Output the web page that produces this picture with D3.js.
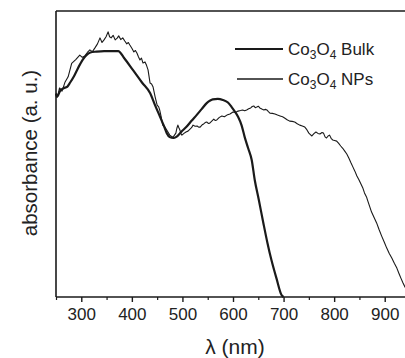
<!DOCTYPE html>
<html><head><meta charset="utf-8">
<script src="https://cdn.jsdelivr.net/npm/d3@7"></script>
<style>body{margin:0;background:#fff}svg{display:block}text{font-family:"Liberation Sans",Arial,sans-serif;fill:#222}</style>
</head><body><svg id="c" width="405" height="358"></svg>
<script>
const xTicks = [300,400,500,600,700,800,900];
const xMinorTicks = [250,350,450,550,650,750,850,950];
const bulkWl = [250,252,258,265,272,278,285,292,298,303,310,318,330,345,360,373,385,402,420,436,446,456,463,469,475,482,488,498,508,518,528,538,548,555,560,570,580,590,597,603,610,617,623,630,637,643,651,660,668,676,686,696,700];
const bulkAbs = [0.71,0.70,0.72,0.73,0.735,0.75,0.77,0.795,0.815,0.83,0.845,0.855,0.858,0.86,0.86,0.86,0.835,0.794,0.75,0.713,0.67,0.629,0.60,0.573,0.559,0.556,0.56,0.578,0.595,0.616,0.636,0.657,0.678,0.687,0.691,0.693,0.689,0.68,0.665,0.65,0.63,0.60,0.56,0.52,0.479,0.409,0.34,0.259,0.19,0.129,0.065,0.007,0];
const npWl = [250,253,257,262,268,274,281,289,297,302,307,312,317,322,327,332,337,341,345,349,353,356,359,363,367,371,374,378,382,386,390,393,396,400,404,407,410,413,416,419,422,426,429,432,436,439,442,446,450,453,455,458,461,465,469,472,475,478,481,484,487,489,491,493,495,497,499,503,507,511,515,518,521,525,529,532,535,539,542,545,548,551,554,558,562,565,568,573,578,583,588,594,600,605,610,615,619,623,627,631,635,638,641,644,647,650,653,657,661,664,667,670,673,678,683,688,693,698,702,707,712,717,722,727,732,737,742,746,750,753,756,760,764,768,772,776,779,782,785,788,791,794,797,801,805,809,813,817,821,825,829,833,837,841,845,849,853,857,860,864,866,870,874,879,884,889,894,899,904,909,914,919,924,928,932,936,940,945,950];
const npAbs = [0.713,0.70,0.731,0.72,0.752,0.77,0.817,0.83,0.846,0.838,0.843,0.855,0.864,0.858,0.871,0.885,0.906,0.89,0.899,0.91,0.927,0.91,0.906,0.915,0.899,0.905,0.913,0.9,0.906,0.895,0.885,0.89,0.881,0.87,0.857,0.862,0.853,0.84,0.829,0.835,0.818,0.822,0.81,0.794,0.748,0.745,0.734,0.70,0.671,0.665,0.654,0.63,0.601,0.595,0.584,0.575,0.566,0.562,0.559,0.565,0.573,0.59,0.601,0.592,0.584,0.572,0.566,0.572,0.577,0.58,0.587,0.592,0.601,0.597,0.598,0.594,0.594,0.602,0.605,0.61,0.612,0.607,0.608,0.615,0.622,0.617,0.619,0.628,0.633,0.63,0.636,0.64,0.647,0.645,0.65,0.652,0.654,0.651,0.654,0.658,0.661,0.666,0.668,0.662,0.664,0.667,0.661,0.657,0.654,0.656,0.654,0.648,0.643,0.642,0.640,0.636,0.633,0.63,0.626,0.62,0.615,0.614,0.612,0.606,0.601,0.598,0.594,0.585,0.573,0.568,0.563,0.571,0.577,0.572,0.57,0.575,0.573,0.56,0.556,0.563,0.566,0.555,0.549,0.547,0.545,0.537,0.528,0.52,0.51,0.50,0.486,0.47,0.455,0.44,0.423,0.41,0.395,0.38,0.364,0.35,0.339,0.318,0.297,0.278,0.259,0.235,0.213,0.192,0.171,0.152,0.136,0.118,0.101,0.083,0.066,0.05,0.035,0.022,0.014];
const series = [
  {name:"Bulk", wl:bulkWl, abs:bulkAbs, width:2.2},
  {name:"NPs", wl:npWl, abs:npAbs, width:1.1}
];
const legendNames = ["Bulk","NPs"];

const svg = d3.select("#c");
const L = 56, R = 410, T = 11, B = 297;
const x = d3.scaleLinear().domain([250,950]).range([L,R]);
const y = d3.scaleLinear().domain([0,1]).range([B,T]);

svg.append("rect").attr("width",405).attr("height",358).attr("fill","#fff");

const line = d3.line().x(d=>x(d[0])).y(d=>y(d[1]));
series.forEach(s=>{
  const pts = s.wl.map((w,i)=>[w,s.abs[i]]);
  svg.append("path").attr("d", line.curve(s.name==="Bulk"?d3.curveMonotoneX:d3.curveLinear)(pts))
    .attr("fill","none").attr("stroke","#1a1a1a").attr("stroke-width",s.width).attr("stroke-linejoin","round");
});

// frame
svg.append("line").attr("x1",L).attr("x2",L).attr("y1",T).attr("y2",B).attr("stroke","#1a1a1a").attr("stroke-width",1.6);
svg.append("line").attr("x1",L).attr("x2",R).attr("y1",T).attr("y2",T).attr("stroke","#1a1a1a").attr("stroke-width",1.6);

const xAxis = svg.append("g").attr("transform",`translate(0,${B})`)
  .call(d3.axisBottom(x).tickValues(xTicks).tickSize(5).tickPadding(6).tickFormat(d3.format("d")));
xAxis.select(".domain").attr("stroke","#1a1a1a").attr("stroke-width",1.6).attr("d",`M${L},0H${R}`);
xAxis.selectAll(".tick line").attr("stroke","#1a1a1a").attr("stroke-width",1.4);
xAxis.selectAll(".tick text").attr("font-size",17).attr("font-family","Liberation Sans, Arial, sans-serif").attr("fill","#333");
const minor = svg.append("g").attr("transform",`translate(0,${B})`)
  .call(d3.axisBottom(x).tickValues(xMinorTicks).tickSize(3).tickFormat(""));
minor.select(".domain").remove();
minor.selectAll(".tick line").attr("stroke","#1a1a1a").attr("stroke-width",1.2);

svg.append("text").attr("x",235).attr("y",354).attr("text-anchor","middle").attr("font-size",21).attr("fill","#333").text("λ (nm)");
svg.append("text").attr("transform","translate(37,153) rotate(-90)").attr("text-anchor","middle").attr("font-size",20.5).attr("fill","#333").text("absorbance (a. u.)");

// legend
const leg = svg.append("g");
legendNames.forEach((n,i)=>{
  const yy = 49 + i*30;
  leg.append("line").attr("x1",235+i*2).attr("x2",283).attr("y1",yy).attr("y2",yy).attr("stroke","#1a1a1a").attr("stroke-width",i===0?1.8:1.6);
  const t = leg.append("text").attr("x",288).attr("y",yy+6).attr("font-size",17).attr("fill","#333");
  t.append("tspan").text("Co");
  t.append("tspan").attr("dy",4).attr("font-size",12).text("3");
  t.append("tspan").attr("dy",-4).text("O");
  t.append("tspan").attr("dy",4).attr("font-size",12).text("4");
  t.append("tspan").attr("dy",-4).text(" "+n);
});
</script></body></html>
